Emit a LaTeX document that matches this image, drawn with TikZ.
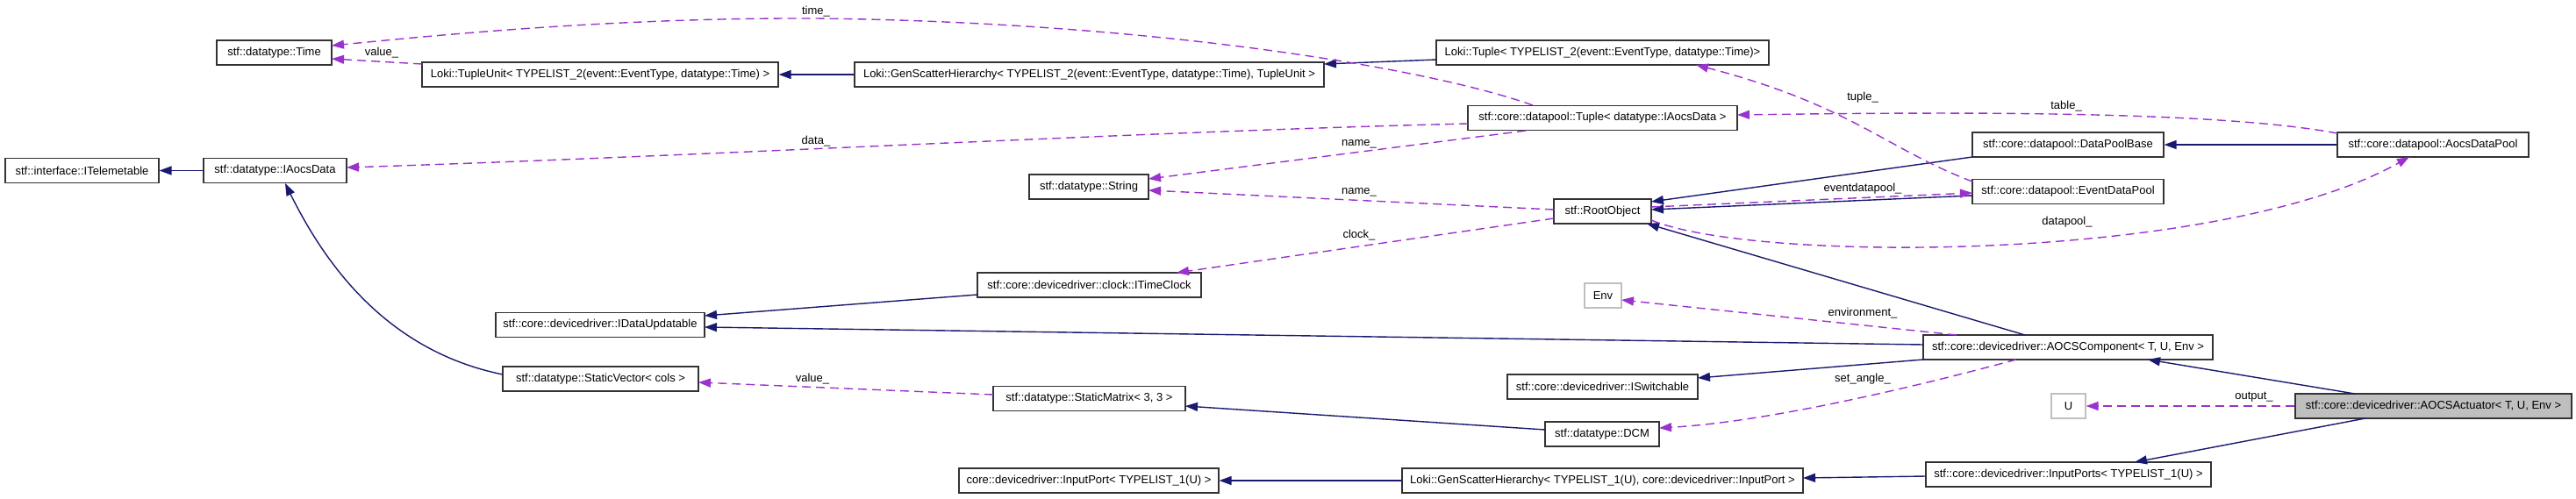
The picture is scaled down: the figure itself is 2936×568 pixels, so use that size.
\documentclass[tikz,border=0pt]{standalone}
\usepackage{fontspec}
\setmainfont{Liberation Sans}
\usetikzlibrary{arrows.meta,calc}
\definecolor{navy}{HTML}{191970}
\definecolor{purp}{HTML}{9A32CD}
\definecolor{actfill}{HTML}{BFBFBF}
\begin{document}
\begin{tikzpicture}[x=1pt,y=-1pt,
  cls/.style={draw=black!80, line width=1.2pt, minimum height=28pt, inner sep=0pt, font=\fontsize{13}{15}\selectfont, fill=white},
  ext/.style={cls, draw=black!25},
  cur/.style={cls, fill=actfill},
  inh/.style={draw=navy, line width=1.4pt, -{Triangle[length=14pt,width=10pt]}},
  use/.style={draw=purp, line width=1.4pt, dash pattern=on 10pt off 6pt, -{Triangle[length=14pt,width=10pt]}},
  lbl/.style={font=\fontsize{13}{15}\selectfont, inner sep=0pt}
]
\useasboundingbox (0,0) rectangle (2936,568);
% nodes
\node[cls, minimum width=131pt] (time) at (312.5,60) {stf::datatype::Time};
\node[cls, minimum width=406pt] (tupleunit) at (684,85) {Loki::TupleUnit< TYPELIST\_2(event::EventType, datatype::Time) >};
\node[cls, minimum width=175pt] (itele) at (93.5,194.5) {stf::interface::ITelemetable};
\node[cls, minimum width=163pt] (iaocs) at (313.5,194.5) {stf::datatype::IAocsData};
\node[cls, minimum width=238pt] (idataupd) at (684,370.5) {stf::core::devicedriver::IDataUpdatable};
\node[cls, minimum width=223pt] (staticvec) at (684.5,432) {stf::datatype::StaticVector< cols >};
\node[cls, minimum width=535pt] (gsh2) at (1241.5,85) {Loki::GenScatterHierarchy< TYPELIST\_2(event::EventType, datatype::Time), TupleUnit >};
\node[cls, minimum width=136pt] (string) at (1241,213) {stf::datatype::String};
\node[cls, minimum width=255pt] (itimeclock) at (1241.5,325) {stf::core::devicedriver::clock::ITimeClock};
\node[cls, minimum width=219pt] (staticmat) at (1241.5,454.5) {stf::datatype::StaticMatrix< 3, 3 >};
\node[cls, minimum width=296pt] (inputport) at (1241,548) {core::devicedriver::InputPort< TYPELIST\_1(U) >};
\node[cls, minimum width=379pt] (lokituple) at (1826.5,60) {Loki::Tuple< TYPELIST\_2(event::EventType, datatype::Time)>};
\node[cls, minimum width=307pt] (dptuple) at (1826.5,134.5) {stf::core::datapool::Tuple< datatype::IAocsData >};
\node[cls, minimum width=111pt] (root) at (1826.5,241) {stf::RootObject};
\node[ext, minimum width=42pt] (env) at (1827,337) {Env};
\node[cls, minimum width=217pt] (iswitch) at (1826.5,441) {stf::core::devicedriver::ISwitchable};
\node[cls, minimum width=130pt] (dcm) at (1826,495) {stf::datatype::DCM};
\node[cls, minimum width=457pt] (gsh1) at (1826.5,548) {Loki::GenScatterHierarchy< TYPELIST\_1(U), core::devicedriver::InputPort >};
\node[cls, minimum width=218pt] (dpbase) at (2357,165) {stf::core::datapool::DataPoolBase};
\node[cls, minimum width=218pt] (evdp) at (2357,218.5) {stf::core::datapool::EventDataPool};
\node[cls, minimum width=218pt] (aocsdp) at (2773,165) {stf::core::datapool::AocsDataPool};
\node[cls, minimum width=330pt] (aocscomp) at (2357,396) {stf::core::devicedriver::AOCSComponent< T, U, Env >};
\node[ext, minimum width=39pt] (unode) at (2357.5,463) {U};
\node[cur, minimum width=315pt] (actuator) at (2773.5,463) {stf::core::devicedriver::AOCSActuator< T, U, Env >};
\node[cls, minimum width=325pt] (inputports) at (2357.5,541) {stf::core::devicedriver::InputPorts< TYPELIST\_1(U) >};
% edges
\draw[inh] (iaocs.west) -- (itele.east);
\draw[inh] ($(staticvec.center)+(-111.5,-5)$) .. controls (440,400) and (370,300) .. ($(iaocs.center)+(11.5,14.5)$);
\draw[use] ($(tupleunit.center)+(-203,-12)$) -- ($(time.center)+(65.5,7)$);
\node[lbl] (l1) at (435,60) {value\_};
\draw[inh] (gsh2.west) -- (tupleunit.east);
\draw[inh] ($(lokituple.center)+(-189.5,8)$) -- ($(gsh2.center)+(267.5,-12)$);
\draw[use] ($(dptuple.center)+(-79.5,-14.5)$) .. controls (1620,75) and (1300,25) .. (930,21) .. controls (700,20) and (500,40) .. ($(time.center)+(65.5,-8)$);
\node[lbl] (l2) at (930,13) {time\_};
\draw[use] ($(dptuple.center)+(-153.5,6.5)$) .. controls (1300,150) and (800,178) .. ($(iaocs.center)+(81.5,-3.5)$);
\node[lbl] (l3) at (930,161) {data\_};
\draw[use] ($(dptuple.center)+(-87.5,14.5)$) -- ($(string.center)+(68,-9)$);
\node[lbl] (l4) at (1549,164) {name\_};
\draw[use] ($(root.center)+(-55.5,-2)$) -- ($(string.center)+(68,4)$);
\node[lbl] (l5) at (1549,219) {name\_};
\draw[use] ($(root.center)+(-55.5,8)$) -- ($(itimeclock.center)+(99.5,-14)$);
\node[lbl] (l6) at (1549,268) {clock\_};
\draw[inh] ($(itimeclock.center)+(-127.5,11)$) -- ($(idataupd.center)+(119,-10.5)$);
\draw[inh] ($(aocscomp.center)+(-165,-3)$) -- ($(idataupd.center)+(119,2.5)$);
\draw[inh] ($(aocscomp.center)+(-49,-14)$) -- ($(root.center)+(50.5,14)$);
\draw[inh] ($(dpbase.center)+(-109,14)$) -- ($(root.center)+(55.5,-11)$);
\draw[inh] ($(evdp.center)+(-109,4.5)$) -- ($(root.center)+(55.5,-2)$);
\draw[use] ($(root.center)+(55.5,-5)$) -- ($(evdp.center)+(-109,1.5)$);
\node[lbl] (l7) at (2123,215) {eventdatapool\_};
\draw[use] ($(root.center)+(55.5,10)$) .. controls (2000,300) and (2530,300) .. ($(aocsdp.center)+(-27,14)$);
\node[lbl] (l8) at (2356,253) {datapool\_};
\draw[inh] (aocsdp.west) -- (dpbase.east);
\draw[use] ($(aocsdp.center)+(-109,-13)$) .. controls (2520,125) and (2200,128) .. ($(dptuple.center)+(153.5,-3.5)$);
\node[lbl] (l9) at (2355,121) {table\_};
\draw[use] ($(evdp.center)+(-109,-11.5)$) .. controls (2150,170) and (2110,120) .. ($(lokituple.center)+(106.5,14)$);
\node[lbl] (l10) at (2123,111) {tuple\_};
\draw[use] ($(aocscomp.center)+(-127,-14)$) -- ($(env.center)+(21,5)$);
\node[lbl] (l11) at (2123,357) {environment\_};
\draw[inh] ($(aocscomp.center)+(-165,14)$) -- ($(iswitch.center)+(108.5,-10)$);
\draw[use] ($(aocscomp.center)+(-59,14)$) .. controls (2150,450) and (2000,482) .. ($(dcm.center)+(65,-7)$);
\node[lbl] (l12) at (2123,432) {set\_angle\_};
\draw[inh] ($(dcm.center)+(-65,-5)$) -- ($(staticmat.center)+(109.5,8.5)$);
\draw[use] ($(staticmat.center)+(-109.5,-4.5)$) -- ($(staticvec.center)+(111.5,4)$);
\node[lbl] (l13) at (926,432) {value\_};
\draw[inh] ($(actuator.center)+(-89.5,-14)$) -- ($(aocscomp.center)+(91,14)$);
\draw[use] (actuator.west) -- (unode.east);
\node[lbl] (l14) at (2569,453) {output\_};
\draw[inh] ($(actuator.center)+(-77.5,14)$) -- ($(inputports.center)+(75.5,-14)$);
\draw[inh] ($(inputports.center)+(-162.5,2)$) -- ($(gsh1.center)+(228.5,-3)$);
\draw[inh] (gsh1.west) -- (inputport.east);
\end{tikzpicture}
\end{document}
